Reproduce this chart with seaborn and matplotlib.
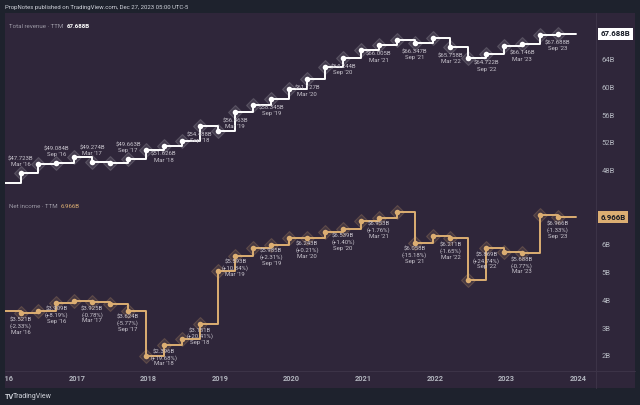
import pandas as pd
import matplotlib
matplotlib.use("Agg")
import matplotlib.pyplot as plt
import matplotlib.transforms as mtransforms
from matplotlib.colors import to_rgba
from matplotlib.patches import Rectangle
from matplotlib.lines import Line2D
import seaborn as sns

# TTM figures per quarter, Dec '15 .. Sep '23 (billions USD)
quarter_ends = pd.date_range("2015-12-31", periods=32, freq="QE")
revenue = [46.24, 47.723, 48.97, 49.084, 49.93, 49.274, 49.07, 49.663,
           51.048, 51.626, 52.28, 54.488, 53.762, 56.463, 57.45, 58.345,
           59.812, 61.127, 62.95, 64.244, 65.398, 66.005, 66.78, 66.347,
           67.044, 65.758, 64.15, 64.722, 65.984, 66.146, 67.50, 67.688]
net_income = [3.605, 3.521, 3.613, 3.909, 3.956, 3.925, 3.846, 3.624,
              2.002, 2.396, 2.617, 3.151, 5.046, 5.593, 5.850, 5.985,
              6.230, 6.243, 6.449, 6.539, 6.833, 6.953, 7.142, 6.058,
              6.315, 6.211, 4.705, 5.869, 5.732, 5.688, 7.060, 6.966]
# change shown under the Mar / Sep net income labels
ni_change = ["(-2.33%)", "(+8.19%)", "(-0.78%)", "(-5.77%)", "(+19.68%)",
             "(+20.41%)", "(+10.84%)", "(+2.31%)", "(+0.21%)", "(+1.40%)",
             "(+1.76%)", "(-15.18%)", "(-1.65%)", "(+24.74%)", "(-0.77%)",
             "(-1.33%)"]

rev_ticks = [48, 52, 56, 60, 64]
ni_ticks = [2, 3, 4, 5, 6]
years = [2016, 2017, 2018, 2019, 2020, 2021, 2022, 2023, 2024]

# colours
OUTER = "#1e222d"
PANEL = "#2f263a"
SEP = "#3d3448"
REV_C = "#ffffff"
NI_C = "#dcae72"
TICK_C = "#b2b5be"
LBL_C = "#c8c4cd"

sns.set_theme(style="dark")
plt.rcParams["font.family"] = ["Roboto", "DejaVu Sans"]

W, H = 640, 405
fig = plt.figure(figsize=(W / 100, H / 100), dpi=100, facecolor=OUTER)

def fx(px):
    return px / W

def fy(py):
    return 1 - py / H

fig.patches.append(Rectangle((fx(5), fy(388)), fx(630), 375 / H,
                             transform=fig.transFigure, fc=PANEL, ec="none", zorder=-5))

ax_rev = fig.add_axes([fx(5), fy(194), fx(591), 181 / H])
ax_ni = fig.add_axes([fx(5), fy(371), fx(591), 177 / H])

# points sit around the 20th of the closing month on the TradingView time axis
dates = quarter_ends - pd.Timedelta(days=11)
xmin, xmax = pd.Timestamp("2016-01-01"), pd.Timestamp("2024-03-31")


def draw_series(ax, vals, color, face_a, edge_a):
    x_line = list(dates) + [dates[-1] + pd.Timedelta(days=91)]
    y_line = list(vals) + [vals[-1]]
    sns.lineplot(x=x_line, y=y_line, ax=ax, drawstyle="steps-post",
                 color=color, lw=1.4, zorder=3)
    sns.scatterplot(x=dates[1:], y=vals[1:], ax=ax, marker="D", s=50,
                    facecolor=to_rgba(color, face_a), edgecolor=to_rgba(color, edge_a),
                    linewidth=0.8, zorder=1)
    sns.scatterplot(x=dates[1:], y=vals[1:], ax=ax, marker="o", s=16,
                    color=color, linewidth=0, zorder=4)


draw_series(ax_rev, revenue, REV_C, 0.10, 0.16)
draw_series(ax_ni, net_income, NI_C, 0.13, 0.22)

# value labels on Mar / Sep quarters
k = 0
for i in range(1, len(dates)):
    d = dates[i]
    if d.month not in (3, 9):
        continue
    tag = d.strftime("%b '%y")
    v = revenue[i]
    above = d.year < 2018
    ax_rev.annotate(f"${v:.3f}B\n{tag}", xy=(d, v),
                    xytext=(0, 4.2 if above else -4.6), textcoords="offset points",
                    ha="center", va="bottom" if above else "top",
                    fontsize=4.3, color=LBL_C, linespacing=1.2, zorder=5)
    n = net_income[i]
    ax_ni.annotate(f"${n:.3f}B\n{ni_change[k]}\n{tag}", xy=(d, n),
                   xytext=(0, -3.0), textcoords="offset points",
                   ha="center", va="top", fontsize=4.3, color=LBL_C,
                   linespacing=1.15, zorder=5)
    k += 1

for ax in (ax_rev, ax_ni):
    ax.set_facecolor("none")
    ax.set_xlim(xmin, xmax)
    ax.set_xlabel("")
    ax.set_ylabel("")
    ax.grid(False)
    for s in ax.spines.values():
        s.set_visible(False)
    ax.yaxis.tick_right()
    ax.tick_params(axis="y", length=0, pad=4, labelsize=5.5, labelcolor=TICK_C)

ax_rev.set_ylim(44.66, 70.66)
ax_rev.set_yticks(rev_ticks, [f"{t}B" for t in rev_ticks])
ax_rev.set_xticks([])

ax_ni.set_ylim(1.459, 7.803)
ax_ni.set_yticks(ni_ticks, [f"{t}B" for t in ni_ticks])
ax_ni.set_xticks([pd.Timestamp(f"{y}-01-01") for y in years], [str(y) for y in years])
ax_ni.tick_params(axis="x", length=0, pad=2.6, labelsize=5.3, labelcolor=TICK_C)
clip = mtransforms.TransformedBbox(
    mtransforms.Bbox([[fx(5), 0], [fx(596), 1]]), fig.transFigure)
for lbl in ax_ni.get_xticklabels():
    lbl.set_fontweight("bold")
    lbl.set_clip_box(clip)
    lbl.set_clip_on(True)

# separators
fig.lines.append(Line2D([fx(596), fx(596)], [fy(13), fy(388)], transform=fig.transFigure,
                        color=SEP, lw=0.7))
fig.lines.append(Line2D([fx(5), fx(635)], [fy(371), fy(371)], transform=fig.transFigure,
                        color=SEP, lw=0.7))

# last value badges on the price scale
blend_rev = mtransforms.blended_transform_factory(ax_rev.transAxes, ax_rev.transData)
ax_rev.annotate(f"{revenue[-1]:.3f}B", xy=(1, revenue[-1]), xycoords=blend_rev,
                xytext=(3.2, 0), textcoords="offset points", ha="left", va="center",
                fontsize=5.7, fontweight="bold", color="#131722", annotation_clip=False,
                bbox=dict(boxstyle="square,pad=0.3", fc="#ffffff", ec="none"))
blend_ni = mtransforms.blended_transform_factory(ax_ni.transAxes, ax_ni.transData)
ax_ni.annotate(f"{net_income[-1]:.3f}B", xy=(1, net_income[-1]), xycoords=blend_ni,
               xytext=(3.2, 0), textcoords="offset points", ha="left", va="center",
               fontsize=5.7, fontweight="bold", color="#131722", annotation_clip=False,
               bbox=dict(boxstyle="square,pad=0.3", fc=NI_C, ec="none"))

# series titles
t1 = ax_rev.text(0.0068, 0.9227, "Total revenue · TTM", transform=ax_rev.transAxes,
                 fontsize=4.4, color="#9d9aa6", va="center", ha="left")
ax_rev.annotate(f"{revenue[-1]:.3f}B", xy=(1, 0.5), xycoords=t1, xytext=(2.5, 0),
                textcoords="offset points", va="center", ha="left",
                fontsize=4.4, fontweight="bold", color="#ffffff")
t2 = ax_ni.text(0.0068, 0.9266, "Net income · TTM", transform=ax_ni.transAxes,
                fontsize=4.4, color="#9d9aa6", va="center", ha="left")
ax_ni.annotate(f"{net_income[-1]:.3f}B", xy=(1, 0.5), xycoords=t2, xytext=(2.5, 0),
               textcoords="offset points", va="center", ha="left",
               fontsize=4.4, color=NI_C)

# header / footer
fig.text(fx(5), fy(7), "PropNotes published on TradingView.com, Dec 27, 2023 05:00 UTC-5",
         fontsize=4.3, color="#d1d4dc", va="center", ha="left")
fig.text(fx(5), fy(397), "TV", fontsize=5.2, fontweight="bold", color="#d1d4dc",
         va="center", ha="left")
fig.text(fx(13), fy(397), "TradingView", fontsize=5.0, color="#d1d4dc",
         va="center", ha="left")

fig.savefig("out.png", dpi=100, facecolor=OUTER)
